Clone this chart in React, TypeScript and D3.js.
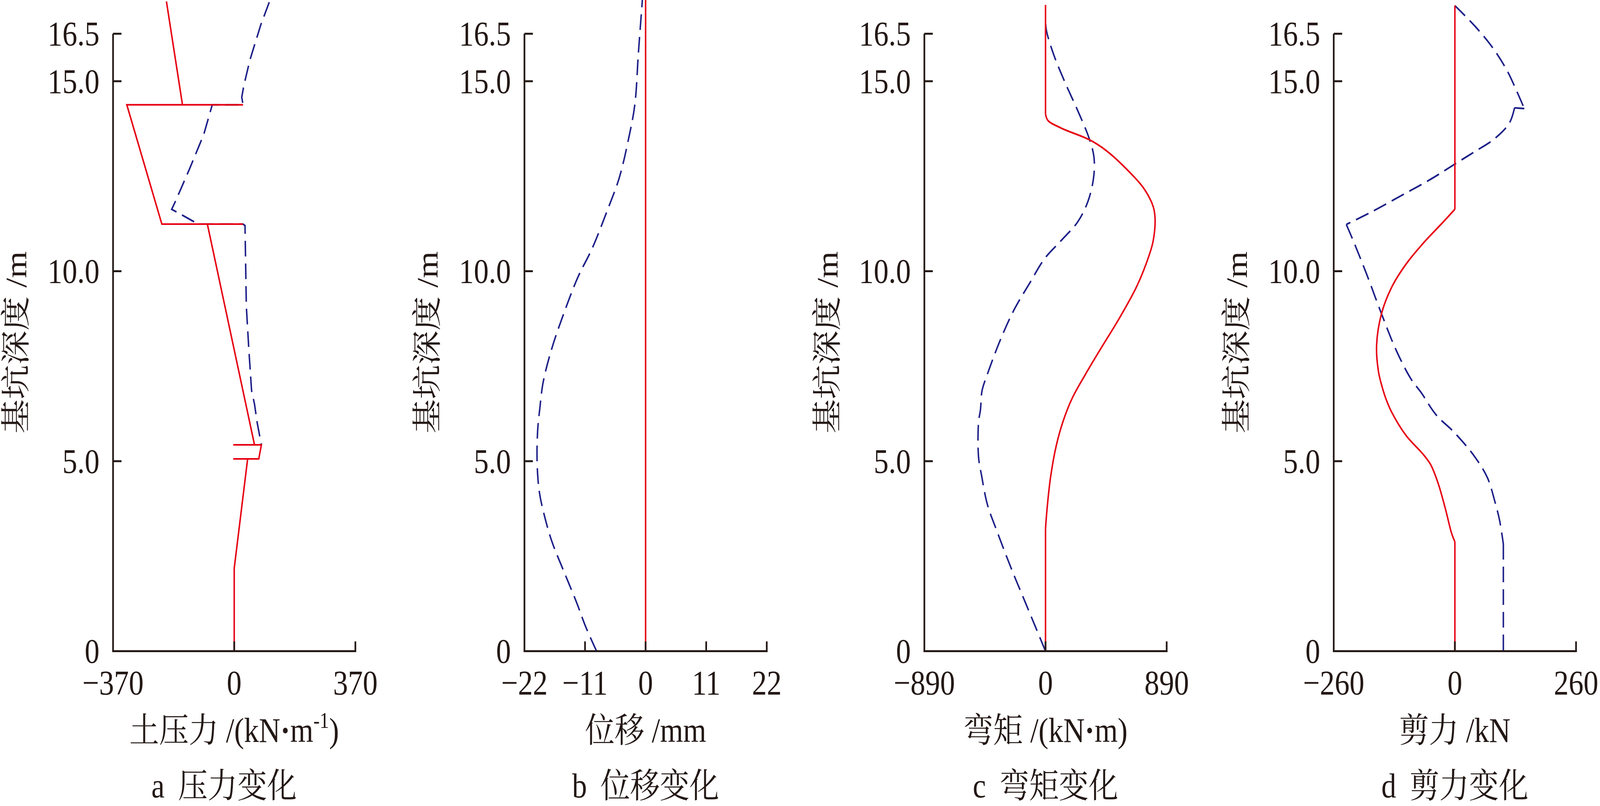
import * as d3 from "d3";
import React from "react";

// depth axis (m)
const depthTicks = [0, 5, 10, 15, 16.25];
const depthTickLabels = ["0", "5.0", "10.0", "15.0", "16.5"];

// a: soil pressure kN/m  [value, depth]
const pressureRed: [number, number][] = [
  [-207, 17.1], [-158, 14.38], [27, 14.38], [-328, 14.38], [-221, 11.24],
  [27, 11.24], [-82, 11.24], [62, 5.43], [-3, 5.43], [83, 5.43],
  [75, 5.06], [-3, 5.06], [41, 5.06], [0, 2.18], [0, 0],
];
const pressureBlue: [number, number][] = [
  [107, 17.08], [81, 16.48], [48, 15.56], [30, 14.91], [23, 14.58], [27, 14.38],
  [-67, 14.38], [-93, 13.6], [-137, 12.68], [-180, 11.83], [-191, 11.63],
  [-118, 11.28], [-105, 11.24], [27, 11.24], [33, 11.2], [37, 9.08],
  [44.5, 7.96], [53, 6.86], [62, 6.5], [70, 6.02], [83, 5.43],
];

// b: displacement mm
const dispRed: [number, number][] = [[0, 0], [0, 17.3]];
const dispBlue: [number, number][] = [
  [-8.9, 0], [-10.9, 0.65], [-12.5, 1.27], [-14.9, 2.12], [-17.0, 2.88],
  [-18.4, 3.58], [-19.3, 4.2], [-19.7, 4.97], [-19.6, 5.81], [-19.2, 6.4],
  [-18.6, 7.08], [-17.0, 7.98], [-14.9, 8.87], [-12.3, 9.84], [-9.7, 10.6],
  [-6.9, 11.62], [-4.8, 12.45], [-3.1, 13.48], [-1.96, 14.38], [-1.3, 15.76],
  [-0.5, 17.3],
];

// c: bending moment kN·m
const momentRedLow: [number, number][] = [[0, 0], [0, 3.23]];
const momentRedMid: [number, number][] = [
  [0, 3.23], [13, 3.81], [37.5, 4.59], [79, 5.41], [129, 6.05], [195, 6.65],
  [294, 7.29], [409, 7.98], [542, 8.76], [674, 9.63], [765, 10.46], [791, 10.8],
  [805, 11.36], [791, 11.7], [722, 12.18], [600, 12.67], [444, 13.18],
  [322, 13.46], [113, 13.77], [17, 13.97], [0, 14.14],
];
const momentRedTop: [number, number][] = [[0, 14.14], [0, 17.01]];
const momentBlue: [number, number][] = [
  [0, 0], [-148, 1.28], [-252, 2.18], [-357, 3.16], [-427, 3.86], [-470, 4.63],
  [-492, 5.11], [-492, 6.03], [-478, 6.35], [-466, 6.86], [-427, 7.29],
  [-340, 8.12], [-236, 8.95], [-114, 9.7], [-9, 10.32], [113, 10.8],
  [235, 11.29], [312, 11.84], [353, 12.46], [356, 13.0], [322, 13.48],
  [235, 14.24], [148, 14.93], [61, 15.69], [8, 16.31], [0, 16.55],
];

// d: shear force kN
const shearRedLow: [number, number][] = [[0, 0], [0, 2.88]];
const shearRedMid: [number, number][] = [
  [0, 2.88], [-7, 3.1], [-20, 3.73], [-36, 4.42], [-52, 4.91], [-68, 5.18],
  [-105, 5.68], [-136, 6.3], [-147, 6.61], [-156, 6.95], [-164, 7.36],
  [-168, 8.05], [-157.5, 8.88], [-136, 9.57], [-104.6, 10.19], [-67.7, 10.74],
  [-25.4, 11.29], [0, 11.63],
];
const shearRedTop: [number, number][] = [[0, 11.63], [0, 16.99]];
const shearBlueTop: [number, number][] = [
  [0, 16.99], [43, 16.45], [80, 15.9], [112, 15.28], [133, 14.73], [149, 14.28],
];
const shearBlueStep: [number, number][] = [[149, 14.28], [128, 14.3]];
const shearBlueMid: [number, number][] = [
  [128, 14.3], [117, 13.9], [85.5, 13.49], [43, 13.15], [0, 12.82],
  [-52, 12.42], [-115, 11.99], [-179, 11.56], [-233, 11.23],
];
const shearBlueLow: [number, number][] = [
  [-233, 11.23], [-216, 10.74], [-189, 9.91], [-157.5, 8.88], [-126, 7.92],
  [-94, 7.16], [-72, 6.8], [-41, 6.23], [0, 5.74], [43, 5.11], [70, 4.56],
  [86, 3.93], [96, 3.44], [104, 2.82],
];
const shearBlueBase: [number, number][] = [[104, 2.82], [104, 0]];

const RED = "#e60012";
const BLUE = "#1d2088";
const INK = "#231815";
const FONT = "'Liberation Serif', 'Times New Roman', 'Noto Serif CJK SC', 'Noto Sans CJK SC', serif";

type Seg = { pts: [number, number][]; smooth: boolean };

const panels = [
  {
    left: 335,
    domain: [-370, 370],
    ticks: [-370, 0, 370],
    tickLabels: ["\u2212370", "0", "370"],
    title: "压力变化",
    letter: "a",
    titleDx: -30,
    red: [{ pts: pressureRed, smooth: false }] as Seg[],
    blue: [{ pts: pressureBlue, smooth: false }] as Seg[],
  },
  {
    left: 1554,
    domain: [-22, 22],
    ticks: [-22, -11, 0, 11, 22],
    tickLabels: ["\u221222", "\u221211", "0", "11", "22"],
    title: "位移变化",
    letter: "b",
    titleDx: 0,
    red: [{ pts: dispRed, smooth: false }] as Seg[],
    blue: [{ pts: dispBlue, smooth: true }] as Seg[],
  },
  {
    left: 2739,
    domain: [-890, 890],
    ticks: [-890, 0, 890],
    tickLabels: ["\u2212890", "0", "890"],
    title: "弯矩变化",
    letter: "c",
    titleDx: 0,
    red: [
      { pts: momentRedLow, smooth: false },
      { pts: momentRedMid, smooth: true },
      { pts: momentRedTop, smooth: false },
    ] as Seg[],
    blue: [{ pts: momentBlue, smooth: true }] as Seg[],
  },
  {
    left: 3952,
    domain: [-260, 260],
    ticks: [-260, 0, 260],
    tickLabels: ["\u2212260", "0", "260"],
    title: "剪力变化",
    letter: "d",
    titleDx: 0,
    red: [
      { pts: shearRedLow, smooth: false },
      { pts: shearRedMid, smooth: true },
      { pts: shearRedTop, smooth: false },
    ] as Seg[],
    blue: [
      { pts: shearBlueTop, smooth: true },
      { pts: shearBlueStep, smooth: false },
      { pts: shearBlueMid, smooth: true },
      { pts: shearBlueLow, smooth: true },
      { pts: shearBlueBase, smooth: false },
    ] as Seg[],
  },
];

const dot = <tspan fontWeight="bold">·</tspan>;
const xTitles = [
  (
    <>
      土压力 /(kN{dot}m<tspan dy={-36} fontSize={56}>-1</tspan>
      <tspan dy={36}>)</tspan>
    </>
  ),
  <>位移 /mm</>,
  <>弯矩 /(kN{dot}m)</>,
  <>剪力 /kN</>,
];

const panelWidth = 718;
const tickLen = 25;

const Panel = ({ p, i }) => {
  const x = d3.scaleLinear().domain(p.domain).range([p.left, p.left + panelWidth]);
  const y = d3.scaleLinear().domain([0, 15]).range([1667.5, 208]);
  const mk = (s: Seg) =>
    d3
      .line<[number, number]>()
      .x((d) => x(d[0]))
      .y((d) => y(d[1]))
      .curve(s.smooth ? d3.curveCatmullRom.alpha(0.5) : d3.curveLinear)(s.pts) || undefined;
  const x0 = p.left;
  const yb = y(0);
  const yt = y(depthTicks[depthTicks.length - 1]);
  const cx = p.left + panelWidth / 2;
  return (
    <g>
      {p.blue.map((s, k) => (
        <path key={"b" + k} d={mk(s)} fill="none" stroke={BLUE} strokeWidth={4.4}
          strokeDasharray="40 18" />
      ))}
      {p.red.map((s, k) => (
        <path key={"r" + k} d={mk(s)} fill="none" stroke={RED} strokeWidth={4.4} />
      ))}
      {/* axes */}
      <line x1={x0} x2={x0} y1={yt} y2={yb} stroke={INK} strokeWidth={5} />
      <line x1={x0 - 2.5} x2={p.left + panelWidth + 2.5} y1={yb} y2={yb} stroke={INK} strokeWidth={5} />
      {depthTicks.map((t, k) =>
        t === 0 ? null : (
          <line key={k} x1={x0} x2={x0 + tickLen} y1={y(t)} y2={y(t)} stroke={INK} strokeWidth={5} />
        )
      )}
      {p.ticks.map((t, k) =>
        k === 0 ? null : (
          <line key={k} x1={x(t)} x2={x(t)} y1={yb} y2={yb - tickLen} stroke={INK} strokeWidth={5} />
        )
      )}
      {depthTicks.map((t, k) => (
        <text key={k} x={x0 - 40} y={y(t)} dy="0.34em" textAnchor="end" fontSize={88}
          fontFamily={FONT} fill={INK}>
          {depthTickLabels[k]}
        </text>
      ))}
      {p.ticks.map((t, k) => (
        <text key={k} x={x(t)} y={1778} textAnchor="middle" fontSize={88} fontFamily={FONT} fill={INK}>
          {p.tickLabels[k]}
        </text>
      ))}
      <text
        transform={`translate(${x0 - 289}, ${(yb + yt) / 2}) rotate(-90)`}
        textAnchor="middle"
        dy="0.36em"
        fontSize={88}
        fontFamily={FONT}
        fill={INK}
      >
        基坑深度 /m
      </text>
      <text x={cx} y={1900} textAnchor="middle" fontSize={88} fontFamily={FONT} fill={INK}>
        {xTitles[i]}
      </text>
      <text x={cx + p.titleDx} y={2042} textAnchor="middle" fontSize={88} fontFamily={FONT} fill={INK}>
        <tspan>{p.letter}</tspan>
        <tspan dx={40}>{p.title}</tspan>
      </text>
    </g>
  );
};

export default function App() {
  // the window may be narrower than 4741px, so the drawing is fitted to the viewport
  return (
    <svg
      viewBox="0 0 4741 2064"
      preserveAspectRatio="none"
      style={{ position: "fixed", left: 0, top: 0, width: "100vw", height: "100vh", display: "block" }}
    >
      <rect width={4741} height={2064} fill="#ffffff" />
      {panels.map((p, i) => (
        <Panel key={i} p={p} i={i} />
      ))}
    </svg>
  );
}
